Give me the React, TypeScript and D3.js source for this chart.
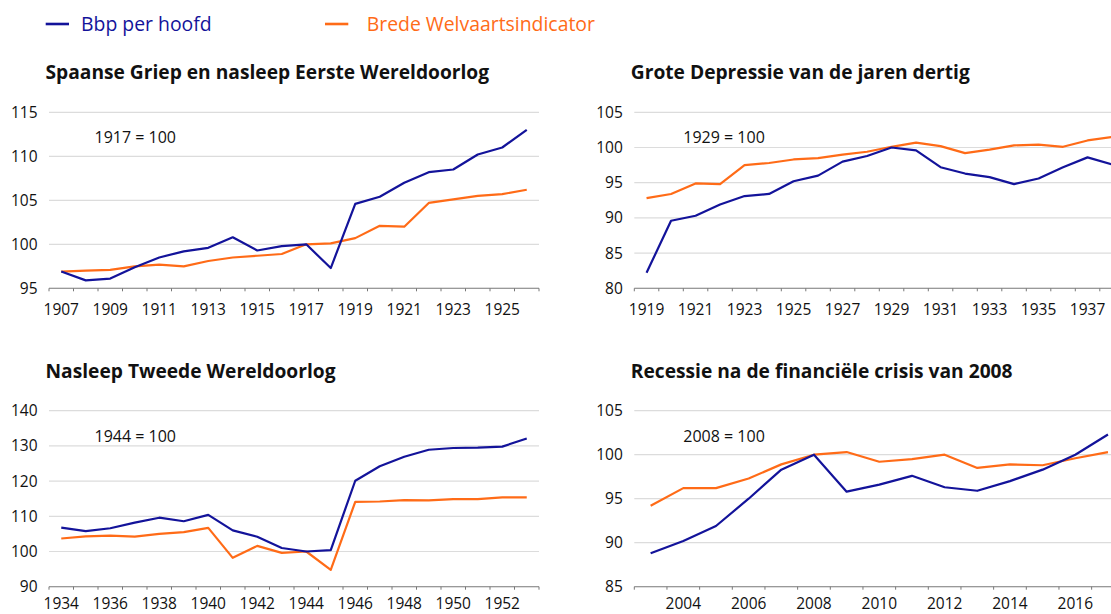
import React from "react";
import * as d3 from "d3";

// ---------- DATA ----------
const seriesNames = ["Bbp per hoofd", "Brede Welvaartsindicator"];

const p1Title = "Spaanse Griep en nasleep Eerste Wereldoorlog";
const p1Note = "1917 = 100";
const p1Years = [1907, 1908, 1909, 1910, 1911, 1912, 1913, 1914, 1915, 1916, 1917, 1918, 1919, 1920, 1921, 1922, 1923, 1924, 1925, 1926];
const p1Bbp = [96.9, 95.9, 96.1, 97.4, 98.5, 99.2, 99.6, 100.8, 99.3, 99.8, 100, 97.3, 104.6, 105.4, 107.0, 108.2, 108.5, 110.2, 111.0, 113.0];
const p1Bwi = [96.9, 97.0, 97.1, 97.5, 97.7, 97.5, 98.1, 98.5, 98.7, 98.9, 100, 100.1, 100.7, 102.1, 102.0, 104.7, 105.1, 105.5, 105.7, 106.2];
const p1Ticks = [95, 100, 105, 110, 115];
const p1Labels = [1907, 1909, 1911, 1913, 1915, 1917, 1919, 1921, 1923, 1925];

const p2Title = "Grote Depressie van de jaren dertig";
const p2Note = "1929 = 100";
const p2Years = [1919, 1920, 1921, 1922, 1923, 1924, 1925, 1926, 1927, 1928, 1929, 1930, 1931, 1932, 1933, 1934, 1935, 1936, 1937, 1938];
const p2Bbp = [82.2, 89.6, 90.3, 91.9, 93.1, 93.4, 95.2, 96.0, 98.0, 98.8, 100, 99.6, 97.2, 96.3, 95.8, 94.8, 95.6, 97.2, 98.6, 97.6];
const p2Bwi = [92.8, 93.4, 94.9, 94.8, 97.5, 97.8, 98.3, 98.5, 99.0, 99.4, 100.1, 100.7, 100.2, 99.2, 99.7, 100.3, 100.4, 100.1, 101.0, 101.5];
const p2Ticks = [80, 85, 90, 95, 100, 105];
const p2Labels = [1919, 1921, 1923, 1925, 1927, 1929, 1931, 1933, 1935, 1937];

const p3Title = "Nasleep Tweede Wereldoorlog";
const p3Note = "1944 = 100";
const p3Years = [1934, 1935, 1936, 1937, 1938, 1939, 1940, 1941, 1942, 1943, 1944, 1945, 1946, 1947, 1948, 1949, 1950, 1951, 1952, 1953];
const p3Bbp = [106.8, 105.8, 106.6, 108.2, 109.6, 108.6, 110.4, 106.0, 104.2, 101.0, 100, 100.4, 120.1, 124.2, 126.9, 128.9, 129.4, 129.5, 129.8, 132.1];
const p3Bwi = [103.7, 104.3, 104.5, 104.2, 105.0, 105.5, 106.7, 98.2, 101.6, 99.6, 100, 94.8, 114.1, 114.2, 114.6, 114.5, 114.9, 114.9, 115.4, 115.4];
const p3Ticks = [90, 100, 110, 120, 130, 140];
const p3Labels = [1934, 1936, 1938, 1940, 1942, 1944, 1946, 1948, 1950, 1952];

const p4Title = "Recessie na de financiële crisis van 2008";
const p4Note = "2008 = 100";
const p4Years = [2003, 2004, 2005, 2006, 2007, 2008, 2009, 2010, 2011, 2012, 2013, 2014, 2015, 2016, 2017];
const p4Bbp = [88.8, 90.2, 91.9, 95.0, 98.3, 100, 95.8, 96.6, 97.6, 96.3, 95.9, 97.0, 98.3, 100, 102.3];
const p4Bwi = [94.2, 96.2, 96.2, 97.3, 98.9, 100, 100.3, 99.2, 99.5, 100.0, 98.5, 98.9, 98.8, 99.6, 100.3];
const p4Ticks = [85, 90, 95, 100, 105];
const p4Labels = [2004, 2006, 2008, 2010, 2012, 2014, 2016];

// ---------- STYLE ----------
const BLUE = "#13139a";
const ORANGE = "#ff6b17";
const FONT = "'Open Sans', 'Noto Sans', sans-serif";
const PW = 490;
const PH = 176;

type PanelProps = {
  x0: number; y0: number; title: string; note: string;
  years: number[]; bbp: number[]; bwi: number[];
  ticks: number[]; labels: number[]; noteDx: number; labelDy: number;
};

function Panel({ x0, y0, title, note, years, bbp, bwi, ticks, labels, noteDx, labelDy }: PanelProps) {
  const x = d3.scaleBand<number>().domain(years).range([x0, x0 + PW]).padding(0);
  const y = d3.scaleLinear().domain([ticks[0], ticks[ticks.length - 1]]).range([y0 + PH, y0]);
  const bw = x.bandwidth();
  const cx = (yr: number) => (x(yr) as number) + bw / 2;
  const line = d3.line<number>().x((_, i) => cx(years[i])).y((v) => y(v));
  const axisY = y0 + PH;
  return (
    <g>
      <text x={x0 - 3.5} y={y0 - 33} fontFamily={FONT} fontWeight={700} fontSize={19.2} fill="#111">{title}</text>
      {ticks.slice(1).map((t) => (
        <line key={"g" + t} x1={x0} x2={x0 + PW} y1={y(t)} y2={y(t)} stroke="#dcdcdc" strokeWidth={1.2} />
      ))}
      {ticks.map((t) => (
        <text key={"yl" + t} x={x0 - 11.5} y={y(t)} dy="0.35em" textAnchor="end" fontFamily={FONT} fontSize={15.5} fill="#111">{t}</text>
      ))}
      <line x1={x0} x2={x0 + PW} y1={axisY} y2={axisY} stroke="#777" strokeWidth={1.1} />
      {years.concat([NaN]).map((yr, i) => {
        const tx = i < years.length ? (x(yr) as number) : x0 + PW;
        return <line key={"t" + i} x1={tx} x2={tx} y1={axisY} y2={axisY + 3} stroke="#777" strokeWidth={1} />;
      })}
      {labels.map((yr) => (
        <text key={"xl" + yr} x={cx(yr)} y={axisY + labelDy} textAnchor="middle" fontFamily={FONT} fontSize={15.5} fill="#111">{yr}</text>
      ))}
      <text x={x0 + noteDx} y={y0 + 31} fontFamily={FONT} fontSize={16} fill="#111">{note}</text>
      <path d={line(bwi) || ""} fill="none" stroke={ORANGE} strokeWidth={2.2} strokeLinejoin="round" />
      <path d={line(bbp) || ""} fill="none" stroke={BLUE} strokeWidth={2.2} strokeLinejoin="round" />
    </g>
  );
}

export default function App() {
  return (
    <svg width={1111} height={614} style={{ position: "absolute", left: 0, top: 0, background: "#fff" }}>
      <line x1={45.7} x2={69} y1={24} y2={24} stroke={BLUE} strokeWidth={2.6} />
      <text x={81} y={30.5} fontFamily={FONT} fontSize={19.4} fill={BLUE}>{seriesNames[0]}</text>
      <line x1={325} x2={348.3} y1={24} y2={24} stroke={ORANGE} strokeWidth={2.6} />
      <text x={366.7} y={30.5} fontFamily={FONT} fontSize={19.4} fill={ORANGE}>{seriesNames[1]}</text>

      <Panel x0={49} y0={112.3} title={p1Title} note={p1Note} years={p1Years} bbp={p1Bbp} bwi={p1Bwi} ticks={p1Ticks} labels={p1Labels} noteDx={45.5} labelDy={26.5} />
      <Panel x0={634.3} y0={112.3} title={p2Title} note={p2Note} years={p2Years} bbp={p2Bbp} bwi={p2Bwi} ticks={p2Ticks} labels={p2Labels} noteDx={49} labelDy={26.5} />
      <Panel x0={49} y0={410.7} title={p3Title} note={p3Note} years={p3Years} bbp={p3Bbp} bwi={p3Bwi} ticks={p3Ticks} labels={p3Labels} noteDx={45.5} labelDy={22} />
      <Panel x0={634.3} y0={410.7} title={p4Title} note={p4Note} years={p4Years} bbp={p4Bbp} bwi={p4Bwi} ticks={p4Ticks} labels={p4Labels} noteDx={49} labelDy={22} />
    </svg>
  );
}
